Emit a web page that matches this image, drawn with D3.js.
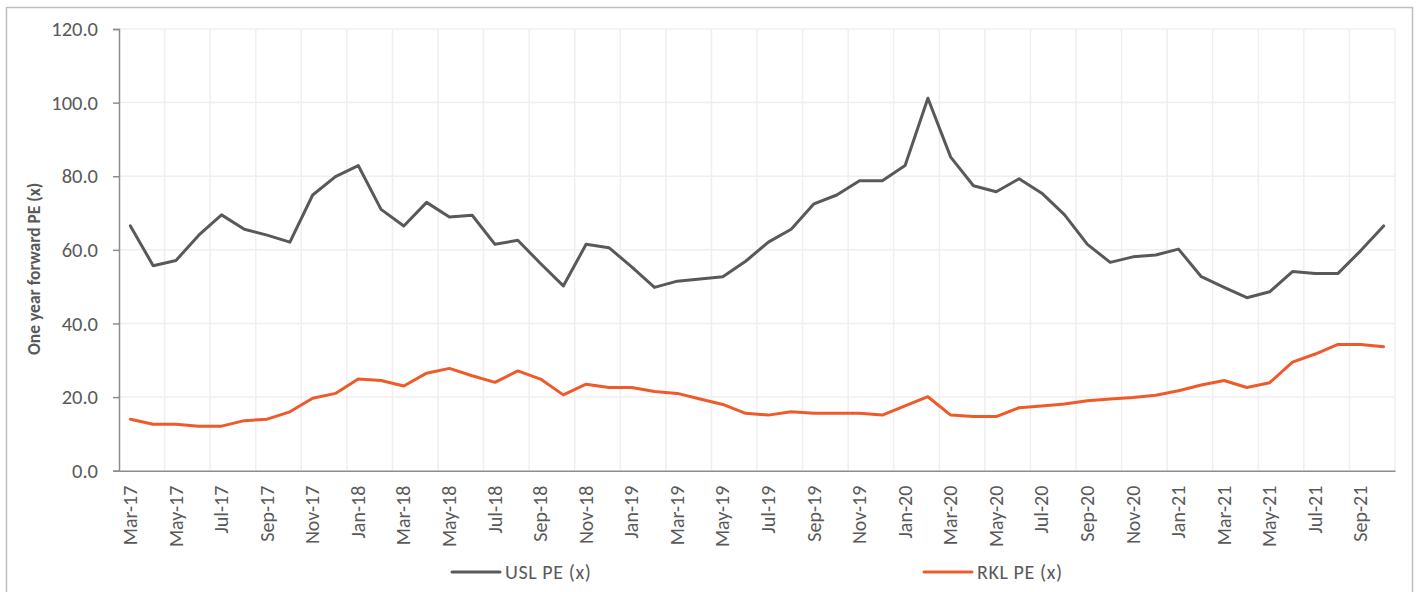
<!DOCTYPE html>
<html>
<head>
<meta charset="utf-8">
<script src="https://cdn.jsdelivr.net/npm/d3@7"></script>
<style>
  html, body { margin: 0; padding: 0; background: #fff; }
  svg { display: block; font-family: Carlito, Lato, "Open Sans", sans-serif; }
</style>
</head>
<body>
<svg id="chart" width="1416" height="592"></svg>
<script>
// Monthly categories, Mar-17 .. Oct-21
const months = [
  "Mar-17","Apr-17","May-17","Jun-17","Jul-17","Aug-17","Sep-17","Oct-17","Nov-17","Dec-17",
  "Jan-18","Feb-18","Mar-18","Apr-18","May-18","Jun-18","Jul-18","Aug-18","Sep-18","Oct-18","Nov-18","Dec-18",
  "Jan-19","Feb-19","Mar-19","Apr-19","May-19","Jun-19","Jul-19","Aug-19","Sep-19","Oct-19","Nov-19","Dec-19",
  "Jan-20","Feb-20","Mar-20","Apr-20","May-20","Jun-20","Jul-20","Aug-20","Sep-20","Oct-20","Nov-20","Dec-20",
  "Jan-21","Feb-21","Mar-21","Apr-21","May-21","Jun-21","Jul-21","Aug-21","Sep-21","Oct-21"
];

// One year forward PE (x)
const uslPE = [
  66.5, 55.7, 57.1, 64.0, 69.5, 65.6, 64.0, 62.1, 74.9, 79.9,
  82.9, 71.0, 66.5, 72.9, 68.9, 69.4, 61.5, 62.6, 56.3, 50.2, 61.5, 60.6,
  55.4, 49.8, 51.5, 52.1, 52.7, 56.9, 62.1, 65.6, 72.5, 74.9, 78.8, 78.8,
  82.9, 101.2, 85.2, 77.4, 75.8, 79.3, 75.4, 69.5, 61.5, 56.6, 58.1, 58.6,
  60.2, 52.7, 49.8, 47.0, 48.6, 54.1, 53.6, 53.6, 59.8, 66.5
];
const rklPE = [
  14.0, 12.6, 12.6, 12.1, 12.1, 13.6, 14.0, 16.0, 19.7, 21.0,
  24.9, 24.5, 23.0, 26.5, 27.8, 25.8, 24.0, 27.1, 24.9, 20.6, 23.5, 22.6,
  22.6, 21.5, 21.0, 19.5, 18.0, 15.6, 15.1, 16.0, 15.6, 15.6, 15.6, 15.1,
  17.6, 20.1, 15.1, 14.7, 14.7, 17.1, 17.6, 18.1, 19.0, 19.5, 19.9, 20.5,
  21.7, 23.3, 24.5, 22.6, 23.9, 29.5, 31.7, 34.3, 34.3, 33.7
];

const yTicks = [0, 20, 40, 60, 80, 100, 120];

const series = [
  { name: "USL PE (x)", values: uslPE, color: "#595959" },
  { name: "RKL PE (x)", values: rklPE, color: "#ef5a2a" }
];

const svg = d3.select("#chart");
const plot = { left: 119, right: 1395, top: 29, bottom: 470.7 };
const textColor = "#595959";

// chart frame
svg.append("rect")
  .attr("x", 6.5).attr("y", 7.5)
  .attr("width", 1406).attr("height", 590)
  .attr("fill", "#fff").attr("stroke", "#bfbfbf").attr("stroke-width", 1.5);

const x = d3.scaleBand().domain(months).range([plot.left, plot.right]).padding(0);
const y = d3.scaleLinear().domain([0, 120]).range([plot.bottom, plot.top]);
const cx = m => x(m) + x.bandwidth() / 2;

// horizontal gridlines
svg.append("g").selectAll("line").data(yTicks.filter(t => t > 0)).join("line")
  .attr("x1", plot.left).attr("x2", plot.right)
  .attr("y1", d => y(d)).attr("y2", d => y(d))
  .attr("stroke", "#efefef").attr("stroke-width", 1.5);

// vertical gridlines on every second category boundary
const boundaries = months.map((m, i) => i).filter(i => i % 2 === 0 && i > 0).map(i => x(months[i]));
boundaries.push(plot.right);
svg.append("g").selectAll("line").data(boundaries).join("line")
  .attr("x1", d => d).attr("x2", d => d)
  .attr("y1", plot.top).attr("y2", plot.bottom)
  .attr("stroke", "#efefef").attr("stroke-width", 1.5);

// y axis
const yAxis = d3.axisLeft(y).tickValues(yTicks).tickFormat(d3.format(".1f")).tickSize(6).tickPadding(15);
const gy = svg.append("g").attr("transform", `translate(${plot.left},0)`).call(yAxis)
  .attr("font-family", null).attr("font-size", null);
gy.select(".domain").attr("stroke", "#8c8c8c").attr("stroke-width", 1.5);
gy.selectAll(".tick line").attr("stroke", "#8c8c8c").attr("stroke-width", 1.5);
gy.selectAll(".tick text").attr("fill", textColor).attr("font-size", 20.5);

// x axis
const xAxis = d3.axisBottom(x).tickValues(months.filter((m, i) => i % 2 === 0)).tickSize(0).tickPadding(0);
const gx = svg.append("g").attr("transform", `translate(0,${plot.bottom})`).call(xAxis)
  .attr("font-family", null).attr("font-size", null);
gx.select(".domain").attr("stroke", "#8c8c8c").attr("stroke-width", 1.5);
gx.selectAll(".tick text")
  .attr("fill", textColor).attr("font-size", 20)
  .attr("transform", "rotate(-90)")
  .attr("text-anchor", "end")
  .attr("x", -15).attr("y", 0).attr("dy", "0.33em");

// y axis title
svg.append("text")
  .attr("transform", `translate(40,${(plot.top + plot.bottom) / 2 + 19}) rotate(-90)`)
  .attr("text-anchor", "middle")
  .attr("font-size", 17.5).attr("font-weight", "bold").attr("fill", textColor)
  .text("One year forward PE (x)");

// series lines
const line = d3.line().x((d, i) => cx(months[i])).y(d => y(d));
svg.append("g").selectAll("path").data(series).join("path")
  .attr("d", s => line(s.values))
  .attr("fill", "none").attr("stroke", s => s.color)
  .attr("stroke-width", 3).attr("stroke-linejoin", "round").attr("stroke-linecap", "round");

// legend
const legendPos = [452, 924];
const lg = svg.append("g").selectAll("g").data(series).join("g")
  .attr("transform", (s, i) => `translate(${legendPos[i]},572)`);
lg.append("line").attr("x1", 0).attr("x2", 48).attr("y1", 0).attr("y2", 0)
  .attr("stroke", s => s.color).attr("stroke-width", 3).attr("stroke-linecap", "round");
lg.append("text").attr("x", 53).attr("y", 0).attr("dy", "0.35em")
  .attr("font-size", 20).attr("letter-spacing", 0.6).attr("fill", textColor).text(s => s.name);
</script>
</body>
</html>
